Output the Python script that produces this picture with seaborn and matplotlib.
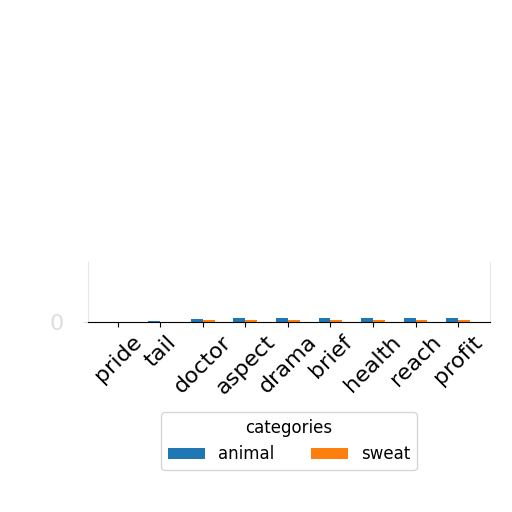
import pandas as pd
import matplotlib
matplotlib.use("Agg")
import matplotlib.pyplot as plt
import seaborn as sns

# values (bars are only a few pixels tall)
words = ["pride", "tail", "doctor", "aspect", "drama", "brief", "health", "reach", "profit"]
animal = [0.5, 1.0, 5.0, 7.0, 7.0, 7.0, 7.0, 7.0, 6.5]
sweat = [0.3, 0.8, 3.0, 4.0, 4.0, 4.0, 4.0, 4.0, 3.5]

df = pd.DataFrame({
    "word": words * 2,
    "value": animal + sweat,
    "categories": ["animal"] * len(words) + ["sweat"] * len(words),
})

fig = plt.figure(figsize=(5.12, 5.12), dpi=100)
ax = fig.add_axes([88 / 512, 1 - 322 / 512, 402 / 512, 60 / 512])

sns.barplot(data=df, x="word", y="value", hue="categories",
            palette=["#1f77b4", "#ff7f0e"], saturation=1, width=0.56, ax=ax)

ax.set_xlim(-0.7, 8.75)
ax.set_ylim(0, 100)
ax.set_yticks([0])
ax.set_xlabel("")
ax.set_ylabel("")
ax.tick_params(axis="both", labelsize=16)
ax.tick_params(axis="y", pad=14, colors="#dddddd")
plt.setp(ax.get_xticklabels(), rotation=45, ha="center")

ax.spines["top"].set_visible(False)
ax.spines["left"].set_color("#e6e6e6")
ax.spines["right"].set_color("#e6e6e6")

leg = ax.legend(title="categories", ncol=2, fontsize=12, title_fontsize=12,
                loc="upper center", bbox_to_anchor=(289 / 512, 1 - 404 / 512),
                bbox_transform=fig.transFigure, handlelength=2.2, columnspacing=2.2)

fig.savefig("out.png", dpi=100)
